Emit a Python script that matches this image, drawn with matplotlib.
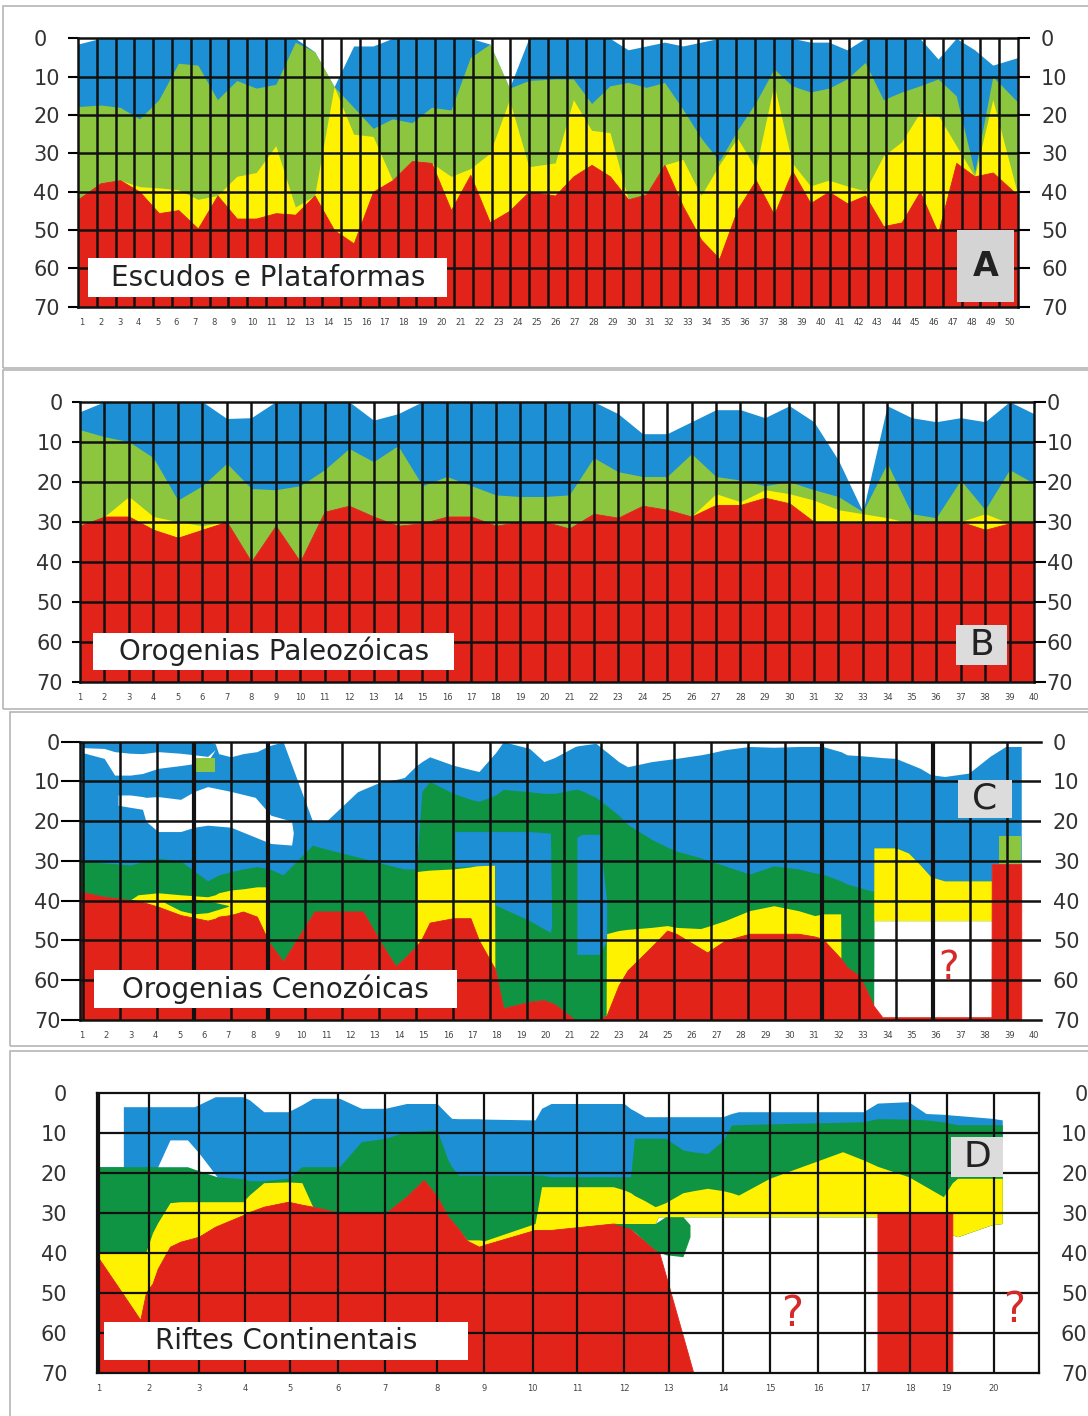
import numpy as np
import matplotlib.pyplot as plt
from matplotlib.patches import Rectangle

plt.rcParams['font.family'] = ['DejaVu Sans']

BLUE = '#1c8fd5'
LGREEN = '#8cc63e'
DGREEN = '#0f9443'
YELLOW = '#fff200'
RED = '#e2231a'
DEPTHS = [0, 10, 20, 30, 40, 50, 60, 70]

# ---- A: Escudos e Plataformas (50 estacoes) ----
a_x = [0.8, 1.99, 3.02, 4.05, 5.07, 6.10, 7.13, 8.16, 9.18, 10.21, 11.24, 12.27, 13.29,
       14.32, 15.35, 16.38, 17.40, 18.43, 19.46, 20.49, 21.51, 22.54, 23.57, 24.60, 25.99,
       26.95, 27.91, 28.88, 29.84, 30.80, 31.76, 32.73, 33.69, 34.65, 35.61, 36.58, 37.54,
       38.50, 39.46, 40.43, 41.39, 42.35, 43.31, 44.28, 45.24, 46.20, 47.16, 48.13, 49.09, 50.42]
a_top = [1.5, 0, 0, 0, 0, 0, 0, 0, 0, 0, 0, 0, 3.5, 12.6, 2, 2, 0, 0, 0, 0, 0, 1.5, 13, 0, 0,
         0, 0, 0, 3, 2, 1, 2, 1, 0, 0, 0, 0, 0, 1, 1, 3, 0, 0, 0, 0, 5.4, 0, 3, 7, 5]
a_blue = [17.8, 17.4, 18, 21, 16, 6.5, 7, 16, 11, 13, 12, 1, 3.5, 12.6, 18, 23.5, 21, 22, 18,
          18.7, 5, 1.5, 13, 11, 10.6, 10.6, 17, 12.4, 11.5, 12.8, 11.5, 18.5, 26, 32, 24, 16.7,
          8, 12.4, 14, 13, 10.6, 6.3, 16, 14, 12.4, 10.6, 15, 35, 10, 16.7]
a_green = [42, 37.8, 37, 38.7, 39, 39.5, 42, 41, 36, 35, 28, 44, 41, 12.6, 25, 25.6, 37, 32,
           32.5, 36, 34, 30, 16, 33.5, 32.5, 16, 24, 24.6, 42, 40.7, 33, 31.6, 41, 33, 26, 34,
           12, 32.5, 38.5, 37, 38.5, 39.8, 30.7, 27, 19.4, 20, 28, 36, 16, 41]
a_yellow = [42, 37.8, 37, 40, 45.6, 44.8, 49.6, 41, 47, 47, 45.6, 46, 41, 50, 53.5, 40, 37, 32,
            32.5, 44.8, 35.6, 48, 45, 40, 41, 36, 33, 36, 42, 40.7, 33, 43.8, 52.5, 57.5, 44.6,
            37, 46, 34.6, 43, 40, 43, 41, 49, 48, 40, 50.8, 32.5, 36, 35, 41]
a_stations = list(range(1, 51))

# ---- B: Orogenias Paleozoicas (40 estacoes) ----
b_x = list(range(1, 41))
b_top = [2.5, 0, 0, 0, 0, 0, 4.2, 4, 0, 0, 0, 0, 4.6, 3, 0, 0, 0, 0, 0, 0,
         0, 0, 3, 8, 8, 5, 2, 2, 4, 1, 5, 14.6, 27.5, 1, 4, 5, 4, 5, 0, 3]
b_blue = [7, 8.75, 10, 14, 24.6, 21, 15.4, 21.7, 22, 21, 17, 11.7, 15, 11, 21, 18.7, 21, 23.3,
          23.7, 23.7, 23.3, 14, 17.5, 18.7, 18.7, 13, 18.7, 19.6, 21, 20, 22, 23.7, 27.5, 15.4,
          28, 29, 19.6, 27, 17, 20.4]
b_green = [31, 28.7, 23.7, 28.7, 30, 31, 30, 40, 31, 40, 27.5, 26, 28.7, 31, 30.4, 28.7, 28.7,
           31, 30, 30, 31.7, 28, 29, 26, 27, 28.7, 23, 25, 22, 23, 24.6, 27, 28, 29, 30.4, 30,
           30, 28, 30.4, 30.4]
b_yellow = [31, 28.7, 28.7, 32, 34, 32, 30, 40, 31, 40, 27.5, 26, 28.7, 31, 30.4, 28.7, 28.7,
            31, 30, 30, 31.7, 28, 29, 26, 27, 28.7, 25.8, 25.8, 24, 25.4, 30, 30.4, 30.4, 30,
            30.4, 30, 30, 32, 30.4, 30.4]

# ---- C: Orogenias Cenozoicas ----
c_x = [0.92, 1.91, 2.98, 3.3, 4.12, 5.04, 6.15, 6.46, 6.6, 7.1, 7.6, 8.17, 8.67, 8.68, 9.24,
       10.45, 10.52, 11.01, 12.29, 12.51, 13.29, 13.86, 14.21, 14.7, 14.71, 14.93, 15.25, 16.21,
       16.92, 17.27, 17.91, 17.92, 18.27, 19.34, 19.93, 20.36, 21.21, 21.35, 22.06, 22.48, 22.49,
       22.99, 23.36, 24.35, 24.98, 25.35, 26.35, 26.62, 27.36, 28.35, 29.35, 30.36, 31.03, 31.35,
       32.09, 32.1, 32.35, 32.87, 33.34, 33.44, 33.45, 33.8, 34.35, 34.87, 35.35, 35.79, 36.35,
       37.34, 38.27, 38.28, 38.85, 39.49]
c_top = [0, 0, 0, 0, 0, 0, 0, 0.5, 3, 3.8, 3, 2.5, 1, 1, 0, 20, 20, 20, 12.6, 12, 10, 9.5, 9,
         6, 6, 5, 3.8, 5.9, 7, 7.5, 3, 3, 0, 1.7, 5, 4, 1.2, 1, 0.4, 2.5, 2.5, 5, 6.3, 5, 4.5,
         4.2, 3.3, 3, 2, 1.2, 1.4, 1.2, 1.2, 1.2, 2.5, 2.5, 3.3, 3.5, 3.75, 3.8, 3.8, 4, 4.2,
         5.5, 6.7, 8.3, 8.75, 7.9, 3.4, 3.4, 1.2, 1.2]
c_blue = [30, 30.5, 31, 30.5, 29.3, 30, 35, 34, 33.5, 32.7, 32, 31.4, 32, 32, 33.5, 26, 26.2,
          27, 29, 29.3, 30.6, 31.5, 32, 32, 32, 12.5, 10, 13, 14.5, 15, 13.5, 13.5, 12, 12.6,
          13, 13, 12, 12, 14, 16, 16, 18.5, 20.8, 24.6, 26.5, 27.5, 29.2, 29.8, 31.25, 33.3,
          31.25, 32, 33, 33.3, 35, 35, 35.8, 36.7, 37.5, 37.5, 26.7, 26.7, 26.7, 28, 31, 34,
          35, 35, 35, 30.8, 30.8, 30.8]
c_green = [37.7, 39, 39.8, 38.5, 38, 38.5, 39, 38.5, 38, 37.3, 37, 36.5, 36.5, 50.6, 55.3,
           43.5, 42.7, 42.7, 42.7, 42.7, 51, 56.5, 54.5, 51.4, 32.7, 32.5, 32.3, 32, 31.5, 31,
           31, 57, 67, 65.4, 65, 66, 70, 70, 70, 69, 48.3, 47.5, 47.2, 46.7, 46.25, 46.7, 47,
           46.5, 45, 42.5, 41.25, 42.5, 43.75, 43.3, 43.3, 54.5, 56.7, 59, 65, 66.5, 26.7,
           26.7, 26.7, 28, 31, 34, 35, 35, 35, 30.8, 30.8, 30.8]
c_yellow = [37.7, 39, 39.8, 40, 41.5, 43.6, 45, 44.5, 44, 43.6, 42.7, 44, 50.6, 50.6, 55.3,
            43.5, 42.7, 42.7, 42.7, 42.7, 51, 56.5, 54.5, 51.4, 51.4, 49.5, 45.5, 44.4, 44.4,
            50, 57, 57, 67, 65.4, 65, 66, 70, 70, 70, 69, 69, 61.3, 57.5, 51.5, 47.5, 48.3, 52,
            53, 50, 48.3, 48.3, 48.3, 49, 49.6, 54.5, 54.5, 56.7, 59, 65, 66.5, 45, 45, 45, 45,
            45, 45, 45, 45, 45, 30.8, 30.8, 30.8]
c_red = [37.7, 39, 39.8, 40, 41.5, 43.6, 45, 44.5, 44, 43.6, 42.7, 44, 50.6, 50.6, 55.3,
         43.5, 42.7, 42.7, 42.7, 42.7, 51, 56.5, 54.5, 51.4, 51.4, 49.5, 45.5, 44.4, 44.4,
         50, 57, 57, 67, 65.4, 65, 66, 70, 70, 70, 69, 69, 61.3, 57.5, 51.5, 47.5, 48.3, 52,
         53, 50, 48.3, 48.3, 48.3, 49, 49.6, 54.5, 54.5, 56.7, 59, 65, 66.5, 66.5, 69.3, 69.3,
         69.3, 69.3, 69.3, 69.3, 69.3, 69.3, 30.8, 30.8, 30.8]
# lentes brancas e inclusoes
c_lens1_x = [1.06, 1.91, 2.34, 2.98, 3.48, 4.12, 5.04, 5.61, 6.15, 6.46]
c_lens1_top = [1.5, 1.7, 2.5, 2.9, 3, 2.5, 2.9, 3.3, 3.7, 2]
c_lens1_bot = [2.8, 4.2, 8.4, 8.4, 8, 6.7, 6, 5.5, 5, 2]
c_lens2_x = [2.48, 2.98, 3.48, 3.62, 4.12, 5.04, 5.61, 6.15, 7.1, 8.1, 8.74, 9.59, 9.66]
c_lens2_top = [13.4, 13.4, 13.8, 14, 13.8, 14.5, 12.5, 11.3, 12.5, 14, 18.5, 20, 23]
c_lens2_bot = [16, 16.5, 17, 20, 22.6, 22.6, 21.5, 21, 21.5, 24, 25.6, 26, 23]
c_incl1_x = [16.28, 17.91, 17.92, 19.34, 20.2, 20.25]
c_incl1_top = [22.6, 22.6, 22.6, 22.6, 23, 46]
c_incl1_bot = [31.5, 31, 41, 45, 48, 46]
c_incl2_x = [21.28, 21.5, 22.2, 22.5]
c_incl2_top = [24, 23.3, 23.3, 40]
c_incl2_bot = [53.5, 53.5, 53.5, 50]
c_glens_x = [4.4, 5.04, 5.61, 6.15, 7.0]
c_glens_top = [40.3, 40, 39.6, 40, 41.2]
c_glens_bot = [40.5, 42.5, 43.3, 43, 41.4]
c_blob_x, c_blob_top, c_blob_bot = [5.61, 6.46], [4.2, 4.2], [7.5, 7.5]
c_cap_x, c_cap_top, c_cap_bot = [38.56, 39.49], [23.75, 23.75], [30.8, 30.8]
c_stations = list(range(1, 41))

# ---- D: Riftes Continentais ----
d_x = [0.95, 1.52, 1.52, 1.88, 2.0, 2.14, 2.25, 2.51, 2.73, 3.03, 3.12, 3.47, 4.06, 4.2, 4.5,
       5.02, 5.31, 5.54, 6.11, 6.57, 7.08, 7.53, 7.9, 8.18, 8.41, 8.49, 8.63, 8.82, 9.07, 9.19,
       10.26, 10.40, 10.60, 11.92, 12.15, 12.29, 12.37, 12.59, 12.81, 12.88, 13.03, 13.40,
       13.62, 13.92, 14.25, 14.43, 14.58, 15.24, 16.79, 17.23, 17.53, 17.53, 18.19, 18.56,
       18.93, 19.12, 19.12, 19.23, 19.96, 20.18]
d_top = [18.5, 18.5, 3.5, 3.5, 3.5, 3.5, 3.5, 3.5, 3.5, 3.5, 3, 1.0, 1.0, 1.8, 4.75, 4.75, 3,
         1.4, 1.4, 3.9, 3.9, 2.7, 2.7, 2.7, 5.5, 6.4, 6.5, 6.5, 6.5, 6.6, 6.8, 3.9, 2.7, 2.7,
         2.7, 4, 4.5, 6.0, 6.0, 6.0, 6.0, 6.0, 6.0, 6.0, 6.0, 5.2, 4.75, 4.75, 4.75, 4.75, 2.6,
         2.6, 2.25, 5.2, 5.4, 5.6, 5.6, 5.7, 6.4, 6.8]
d_blue = [18.5, 18.5, 18.5, 18.5, 18.5, 18.5, 18.5, 18.5, 18.5, 18.5, 19, 21, 21.5, 22, 22,
          21.4, 18.5, 18.5, 18.5, 12.25, 11.4, 9.75, 9.5, 9.3, 16.8, 18.5, 20.6, 20.6, 20.6,
          20.6, 20.6, 20.6, 21, 21, 21, 21, 11.4, 11.4, 11.4, 11.4, 11.4, 14.3, 14.8, 15.2, 12,
          8.1, 8.0, 7.8, 7.4, 7.25, 6.5, 6.5, 6.6, 6.8, 7.3, 7.7, 7.7, 8, 8, 8]
d_green = [39.75, 39.75, 39.75, 39.75, 39.75, 35, 32.5, 27.5, 27.25, 27.25, 27.25, 27.25,
           27.25, 25.5, 22.5, 22.3, 22.5, 28.5, 30, 30.1, 30.2, 26, 21.8, 26, 31, 32, 34, 36.8,
           36.8, 37, 32.7, 23.5, 23.5, 23.5, 24.3, 25, 25.7, 27, 28.5, 28.2, 27.5, 25, 24.5,
           23.9, 24.5, 25, 25.6, 21.4, 14.75, 16.8, 18.4, 18.4, 21, 23.5, 26, 22.5, 22.5, 21.4,
           21.4, 21.4]
d_yellow = [40.6, 50.5, 50.5, 56.8, 50, 47.7, 44, 38.5, 37.25, 36.3, 36, 33.5, 30.6, 29.8,
            28.5, 27.25, 28, 28.5, 30, 30.1, 30.2, 26, 21.8, 26, 31, 32, 34, 37, 38.5, 38, 34.3,
            34.3, 34.3, 32.7, 32.7, 32.7, 32.7, 32.7, 32.7, 31, 31, 31, 31, 31, 31, 31, 31, 31,
            31, 31, 31, 30.2, 30.2, 30.2, 30.2, 30.2, 35.5, 36, 33, 32.7]
d_red = [40.6, 50.5, 50.5, 56.8, 50, 47.7, 44, 38.5, 37.25, 36.3, 36, 33.5, 30.6, 29.8, 28.5,
         27.25, 28, 28.5, 30, 30.1, 30.2, 26, 21.8, 26, 31, 32, 34, 37, 38.5, 38, 34.3, 34.3,
         34.3, 32.7, 33, 34, 35, 37, 39.3, 39.3, 45.4, 60.8, 70, 70, 70, 70, 70, 70, 70, 70,
         70, 30.2, 30.2, 30.2, 30.2, 30.2, 70, 70, 70, 70]
d_lens_x = [2.25, 2.51, 2.88, 3.12, 3.51]
d_lens_top = [18.5, 11.8, 11.8, 15, 21]
d_lens_bot = [18.5, 18.5, 18.5, 19.5, 21]
d_g2_x = [11.92, 12.29, 12.81, 13.03, 13.40, 13.55]
d_g2_top = [32.7, 32.7, 32.7, 31, 31, 33]
d_g2_bot = [32.7, 34, 39.3, 40.5, 41, 36]
d_station_pos = [1.0, 2.06, 3.12, 4.10, 5.06, 6.08, 7.07, 8.18, 9.18, 10.21, 11.15, 12.15,
                 13.10, 14.25, 15.25, 16.27, 17.27, 18.22, 19.0, 20.0]
d_stations = list(range(1, 21))

W, H = 1088, 1416
fig = plt.figure(figsize=(W / 100, H / 100), dpi=100)


def px_axes(left, top, right, bottom):
    return fig.add_axes([left / W, 1 - bottom / H, (right - left) / W, (bottom - top) / H])


def frame(x0, y0, x1, y1):
    fig.add_artist(Rectangle((x0 / W, 1 - y1 / H), (x1 - x0) / W, (y1 - y0) / H,
                             transform=fig.transFigure, fill=False,
                             edgecolor='#b5b5b5', lw=1.2))


def layers(ax, x, top, blue, green, yellow, red_top, green_col):
    ax.fill_between(x, top, yellow, color=BLUE, lw=0, zorder=1)
    ax.fill_between(x, blue, yellow, color=green_col, lw=0, zorder=1.1)
    ax.fill_between(x, green, yellow, color=YELLOW, lw=0, zorder=1.2)
    ax.fill_between(x, red_top, 70, facecolor=RED, edgecolor=RED, lw=0.6, zorder=1.3)


def patch(ax, x, top, bot, col):
    ax.fill_between(x, top, bot, color=col, lw=0, zorder=1.5)


def setup(ax, xmin, xmax, ticks, labels, vlines, lw=1.8):
    ax.set_xlim(xmin, xmax)
    ax.set_ylim(70, 0)
    ax.set_xticks(ticks)
    ax.set_xticklabels(labels, fontsize=6, color='#444444')
    ax.tick_params(axis='x', length=0, pad=8)
    ax.set_yticks(DEPTHS)
    ax.set_yticklabels([str(d) for d in DEPTHS], fontsize=15, color='#333333')
    ax.hlines(DEPTHS[1:-1], xmin, xmax, colors='#111111', lw=lw, zorder=3)
    ax.vlines(vlines, 0, 70, colors='#111111', lw=lw, zorder=3)
    for s in ax.spines.values():
        s.set_linewidth(lw)
        s.set_color('#111111')
        s.set_zorder(4)
    ax2 = ax.twinx()
    ax2.set_ylim(70, 0)
    ax2.set_yticks(DEPTHS)
    ax2.set_yticklabels([str(d) for d in DEPTHS], fontsize=15, color='#333333')
    for s in ax2.spines.values():
        s.set_visible(False)
    return ax2


def box(ax, x0, x1, d0, d1, text, size, face='white', weight='normal'):
    ax.add_patch(Rectangle((x0, d0), x1 - x0, d1 - d0, facecolor=face,
                           edgecolor='none', zorder=5))
    ax.text((x0 + x1) / 2, (d0 + d1) / 2, text, ha='center', va='center',
            fontsize=size, fontweight=weight, color='#222222', zorder=6)


frame(3, 6, 1095, 368)
frame(3, 370, 1095, 709)
frame(10, 712, 1095, 1046)
frame(10, 1051, 1095, 1425)

# Panel A
ax = px_axes(78, 38.3, 1018, 306.7)
layers(ax, a_x, a_top, a_blue, a_green, a_yellow, a_yellow, LGREEN)
ax2 = setup(ax, a_x[0], a_x[-1], a_stations, a_stations,
            np.linspace(a_x[0], a_x[-1], 51)[1:-1])
ax.tick_params(axis='y', length=7.2, width=1.5, pad=25)
for t in ax.get_yticklabels():
    t.set_ha('left')
ax2.tick_params(axis='y', length=8.6, width=1.5, pad=8)
box(ax, 1.34, 20.3, 57.3, 67.5, 'Escudos e Plataformas', 20)
box(ax, 47.2, 50.2, 50, 68.8, 'A', 24, face='#d4d4d4', weight='bold')

# Panel B
ax = px_axes(80, 401.7, 1034, 681.7)
layers(ax, b_x, b_top, b_blue, b_green, b_yellow, b_yellow, LGREEN)
ax2 = setup(ax, 1, 40, b_x, b_x, b_x[1:-1])
ax.tick_params(axis='y', length=5.8, width=1.5, pad=6.5)
ax2.tick_params(axis='y', length=8.6, width=1.5, pad=0.5)
box(ax, 1.55, 16.3, 57.9, 67.1, 'Orogenias Paleozóicas', 20)
box(ax, 36.8, 38.9, 55.8, 65.8, 'B', 26, face='#dcdcdc')

# Panel C
ax = px_axes(80, 741.7, 1041, 1020)
layers(ax, c_x, c_top, c_blue, c_green, c_yellow, c_red, DGREEN)
patch(ax, c_lens1_x, c_lens1_top, c_lens1_bot, 'white')
patch(ax, c_lens2_x, c_lens2_top, c_lens2_bot, 'white')
patch(ax, c_incl1_x, c_incl1_top, c_incl1_bot, BLUE)
patch(ax, c_incl2_x, c_incl2_top, c_incl2_bot, BLUE)
patch(ax, c_glens_x, c_glens_top, c_glens_bot, DGREEN)
patch(ax, c_blob_x, c_blob_top, c_blob_bot, LGREEN)
patch(ax, c_cap_x, c_cap_top, c_cap_bot, LGREEN)
c_grid = np.linspace(1.06, 38.9, 26)
ax2 = setup(ax, 0.92, 40.3, c_stations, c_stations, c_grid)
ax.vlines(c_grid[[3, 5, 20, 23]], 0, 70, colors='#111111', lw=3, zorder=3)
ax.spines['right'].set_visible(False)
ax.tick_params(axis='y', length=13.7, width=1.5, pad=0.5)
ax2.tick_params(axis='y', length=0, pad=8.6)
box(ax, 1.48, 16.35, 57.4, 67, 'Orogenias Cenozóicas', 20)
box(ax, 36.9, 39.1, 9.6, 19.2, 'C', 26, face='#dcdcdc')
ax.text(36.5, 56.8, '?', ha='center', va='center', fontsize=28, color='#d42a2a', zorder=6)

# Panel D
ax = px_axes(96.5, 1092.7, 1039, 1372.7)
layers(ax, d_x, d_top, d_blue, d_green, d_yellow, d_red, DGREEN)
patch(ax, d_lens_x, d_lens_top, d_lens_bot, 'white')
patch(ax, d_g2_x, d_g2_top, d_g2_bot, DGREEN)
ax2 = setup(ax, 0.95, 20.96, d_station_pos, d_stations, d_station_pos, lw=1.6)
ax.tick_params(axis='y', length=0, pad=21)
ax2.tick_params(axis='y', length=0, pad=35)
for t in ax2.get_yticklabels():
    t.set_ha('right')
box(ax, 1.11, 8.83, 57.25, 66.8, 'Riftes Continentais', 20)
box(ax, 19.1, 20.2, 11, 21, 'D', 26, face='#dcdcdc')
ax.text(15.71, 55.2, '?', ha='center', va='center', fontsize=30, color='#d42a2a', zorder=6)
ax.text(20.44, 54.3, '?', ha='center', va='center', fontsize=30, color='#d42a2a', zorder=6)

fig.savefig('out.png', dpi=100, facecolor='white')
